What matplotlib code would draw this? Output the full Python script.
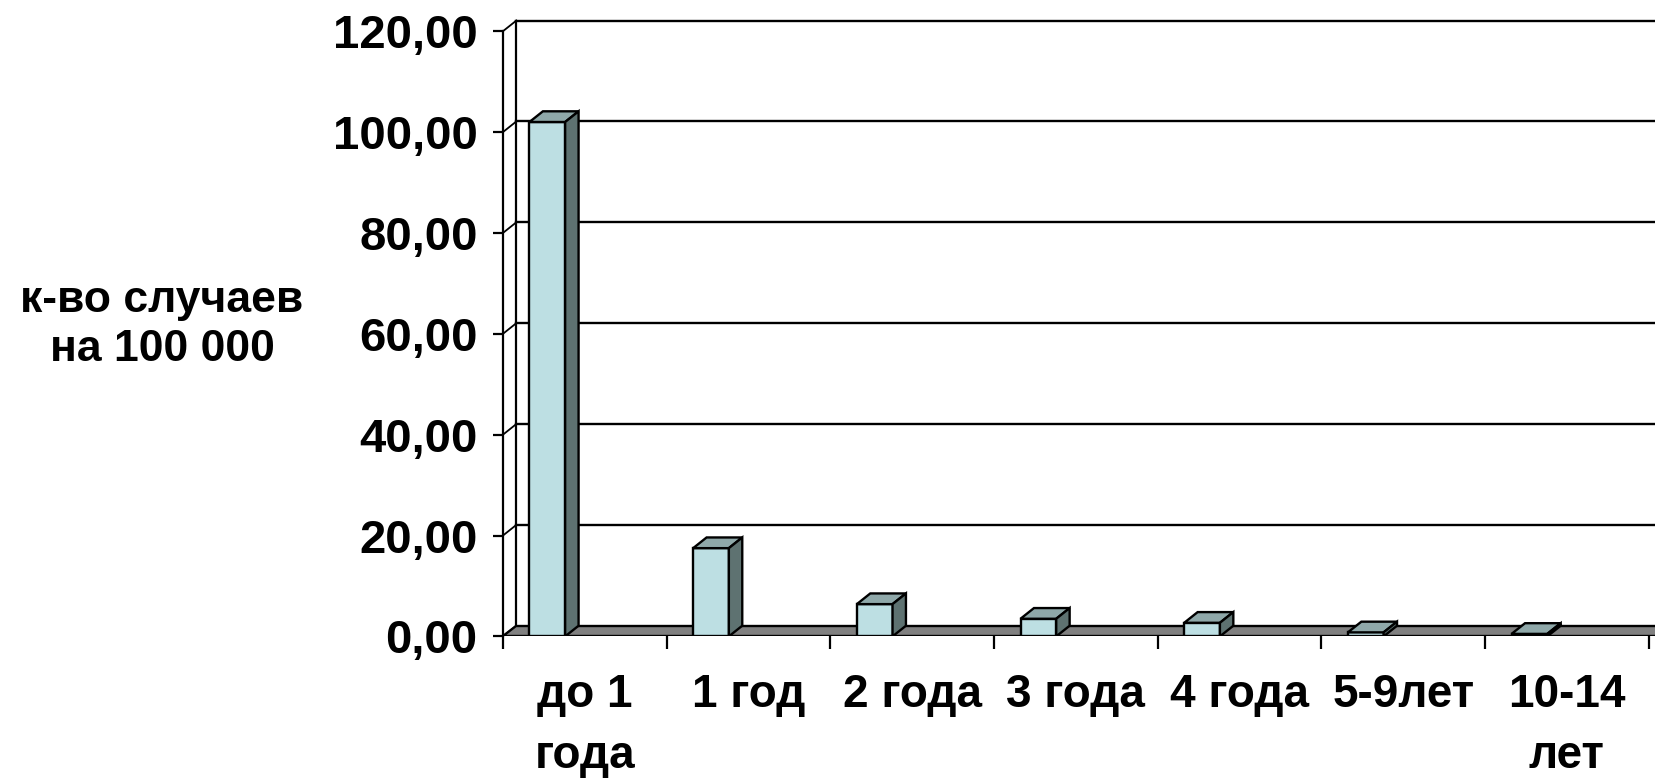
import numpy as np
import matplotlib.pyplot as plt
from matplotlib.patches import Polygon
from matplotlib.ticker import FuncFormatter

plt.rcParams['font.family'] = ['Liberation Sans', 'DejaVu Sans']
plt.rcParams['font.weight'] = 'bold'

# возрастные группы и к-во случаев на 100 000
groups = ['до 1\nгода', '1 год', '2 года', '3 года', '4 года', '5-9лет', '10-14\nлет']
rates = [102.0, 17.5, 6.4, 3.5, 2.7, 0.8, 0.5]
yticks = [0, 20, 40, 60, 80, 100, 120]

front = '#bddfe3'
top = '#8fa8a9'
side = '#5e7271'
floor = '#808080'

# глубина "3D" в единицах данных
dx = 0.082
dy = 2.12
off = 0.162
w = 0.218

fig = plt.figure(figsize=(16.55, 7.8), dpi=100)
ax = fig.add_axes([0.3039, 0.1841, 0.6961, 0.8159])
ax.set_xlim(0, 7.038)
ax.set_ylim(0, 126.19)

for s in ['top', 'right', 'bottom']:
    ax.spines[s].set_visible(False)
ax.spines['left'].set_bounds(0, 120)
ax.spines['left'].set_linewidth(1.6)

# задняя стенка: сетка и левая грань
xr = 7.2
for v in yticks[1:]:
    ax.plot([dx, xr], [v + dy, v + dy], color='black', lw=1.7, zorder=1, clip_on=False)
for v in yticks:
    ax.plot([0, dx], [v, v + dy], color='black', lw=1.3, zorder=1)
ax.plot([dx, dx], [dy, 120 + dy], color='black', lw=1.6, zorder=1)

# пол
ax.add_patch(Polygon([(0, 0), (xr, 0), (xr, dy), (dx, dy)], closed=True,
                     facecolor=floor, edgecolor='black', lw=1.7, zorder=2, clip_on=True))

x = np.arange(len(rates))
x0 = x + off
ax.bar(x0, rates, width=w, align='edge', color=front, edgecolor='black',
       linewidth=1.7, zorder=4)
for xi, v in zip(x0, rates):
    ax.add_patch(Polygon([(xi, v), (xi + w, v), (xi + w + dx, v + dy), (xi + dx, v + dy)],
                         closed=True, facecolor=top, edgecolor='black', lw=1.7, zorder=5))
    ax.add_patch(Polygon([(xi + w, 0), (xi + w + dx, dy), (xi + w + dx, v + dy), (xi + w, v)],
                         closed=True, facecolor=side, edgecolor='black', lw=1.7, zorder=5))

ax.set_yticks(yticks)
ax.yaxis.set_major_formatter(FuncFormatter(lambda v, p: f'{v:.2f}'.replace('.', ',')))
ax.tick_params(axis='y', length=7.2, width=1.6, pad=11, labelsize=34)

ax.set_xticks(np.arange(0, 8))
ax.set_xticklabels([])
ax.tick_params(axis='x', which='major', length=9.4, width=1.6)
ax.set_xticks(x + 0.5, minor=True)
ax.set_xticklabels(groups, minor=True)
ax.tick_params(axis='x', which='minor', length=0, pad=26, labelsize=33)
for lbl in ax.get_xticklabels(minor=True):
    lbl.set_linespacing(1.5)
    lbl.set_fontweight('bold')
for lbl in ax.get_yticklabels():
    lbl.set_fontweight('bold')

ax.set_ylabel('к-во случаев\nна 100 000', rotation=0, fontsize=32,
              fontweight='bold', ha='center', va='center', linespacing=1.25)
ax.yaxis.set_label_coords(-0.296, 0.49)

fig.savefig('out.png', dpi=100)
